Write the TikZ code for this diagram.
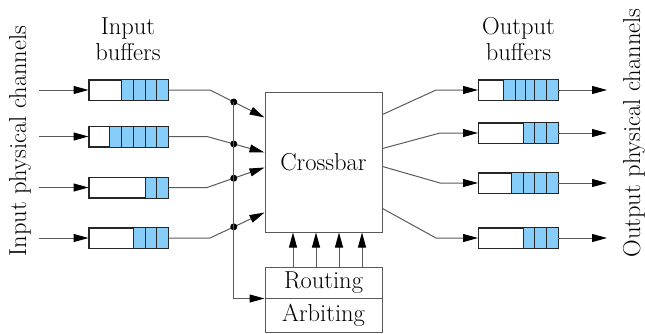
\documentclass[tikz,border=0pt]{standalone}
\usetikzlibrary{arrows.meta,calc}
\definecolor{qblue}{HTML}{87CDFA}
\definecolor{wire}{HTML}{5A5A5A}
\begin{document}
\begin{tikzpicture}[x=1pt,y=-1pt,
  lbl/.style={font=\fontsize{24.5}{26}\selectfont, inner sep=0pt, align=center},
  conn/.style={draw=wire, line width=1pt},
  arr/.style={conn, -{Triangle[length=15pt,width=8pt,color=black]}},
  buf/.style={rectangle, draw=black!85, line width=1pt, fill=white,
              minimum width=79pt, minimum height=20pt, inner sep=0pt},
  cellfill/.style={fill=qblue},
  cellline/.style={draw=black!85, line width=1pt},
  unit/.style={rectangle, draw=wire, line width=1pt, inner sep=0pt,
               minimum width=117pt, font=\fontsize{24.5}{26}\selectfont},
  dot/.style={circle, fill=black, inner sep=0pt, minimum size=7pt}]

\useasboundingbox (0,0) rectangle (645,333);

% ---------- side and column labels ----------
\node[lbl, rotate=90] (inlab)  at (20,141)  {Input physical channels};
\node[lbl, rotate=90] (outlab) at (634,133) {Output physical channels};
\node[lbl] (inbl)  at (128,39) {Input\\buffers};
\node[lbl] (outbl) at (518.5,39) {Output\\buffers};

% ---------- buffers ----------
\node[buf] (inb1) at (128.5,90)  {};
\node[buf] (inb2) at (128.5,136.5) {};
\node[buf] (inb3) at (128.5,187.5) {};
\node[buf] (inb4) at (128.5,238) {};
\node[buf] (outb1) at (518,90)  {};
\node[buf] (outb2) at (518,133) {};
\node[buf] (outb3) at (518,183) {};
\node[buf] (outb4) at (518,238) {};

% occupied slots: buffer / filled width / divider offsets from the right end
\foreach \b/\w/\divs in {inb1/47/{11.75,23.5,35.25},
                         inb2/59/{11.75,23.5,35.25,47},
                         inb3/23.5/{11.75},
                         inb4/35.25/{11.75,23.5},
                         outb1/55/{11.7,23.3,32.3,43},
                         outb2/35/{11.7,23.3},
                         outb3/47/{11.7,23.3,35},
                         outb4/35/{11.7,23.3}} {
  \fill[cellfill] ($(\b.north east)-(\w,0)$) rectangle (\b.south east);
  \foreach \d in \divs
    \draw[cellline] ($(\b.north east)-(\d,0)$) -- ($(\b.south east)-(\d,0)$);
  \draw[cellline] ($(\b.north east)-(\w,0)$) -- ($(\b.south east)-(\w,0)$);
  \draw[cellline] (\b.north west) rectangle (\b.south east);
}

% ---------- crossbar and control units ----------
\node[unit, minimum height=140pt] (cross) at (323.5,162) {Crossbar};
\node[unit, minimum height=31pt] (rout) at (323.5,282.5) {Routing};
\node[unit, minimum height=34pt] (arb)  at (323.5,315) {Arbiting};

% ---------- input side ----------
\foreach \i/\y in {1/90,2/136.5,3/187.5,4/238}
  \coordinate (src\i) at (39,\y);
\foreach \i in {1,...,4}
  \draw[arr] (src\i) -- (inb\i.west);

\coordinate (k1) at (210,90);
\coordinate (k2) at (207,136.5);
\coordinate (k3) at (207,187.5);
\coordinate (k4) at (210,238);
\coordinate (t1) at ($(cross.north west)+(0,26)$);
\coordinate (t2) at ($(cross.north west)+(0,61)$);
\coordinate (t3) at ($(cross.north west)+(0,76)$);
\coordinate (t4) at ($(cross.north west)+(0,121)$);

% the junctions lie where each feed crosses the bus at x = 234
\foreach \i/\f in {1/0.43636,2/0.46552,3/0.46552,4/0.43636} {
  \draw[arr] (inb\i.east) -- (k\i) -- (t\i);
  \node[dot] (d\i) at ($(k\i)!\f!(t\i)$) {};
}
\coordinate (busbot) at (d1.center |- rout.south);
\draw[arr] (d1.center) -- (busbot) -- (rout.south west);

% ---------- control signals ----------
\foreach \x in {-30.5,-7.5,15.5,38.5}
  \draw[arr] ($(rout.north)+(\x,0)$) -- ($(cross.south)+(\x,0)$);

% ---------- output side ----------
\coordinate (s1) at ($(cross.north east)+(0,23)$);
\coordinate (s2) at ($(cross.north east)+(0,57)$);
\coordinate (s3) at ($(cross.north east)+(0,75)$);
\coordinate (s4) at ($(cross.north east)+(0,117)$);
\coordinate (m1) at (436,90);
\coordinate (m2) at (440,133);
\coordinate (m3) at (440,183);
\coordinate (m4) at (436,238);
\foreach \i/\y in {1/90,2/133,3/183,4/238}
  \coordinate (dst\i) at (607,\y);
\foreach \i in {1,...,4} {
  \draw[arr] (s\i) -- (m\i) -- (outb\i.west);
  \draw[arr] (outb\i.east) -- (dst\i);
}
\end{tikzpicture}
\end{document}
